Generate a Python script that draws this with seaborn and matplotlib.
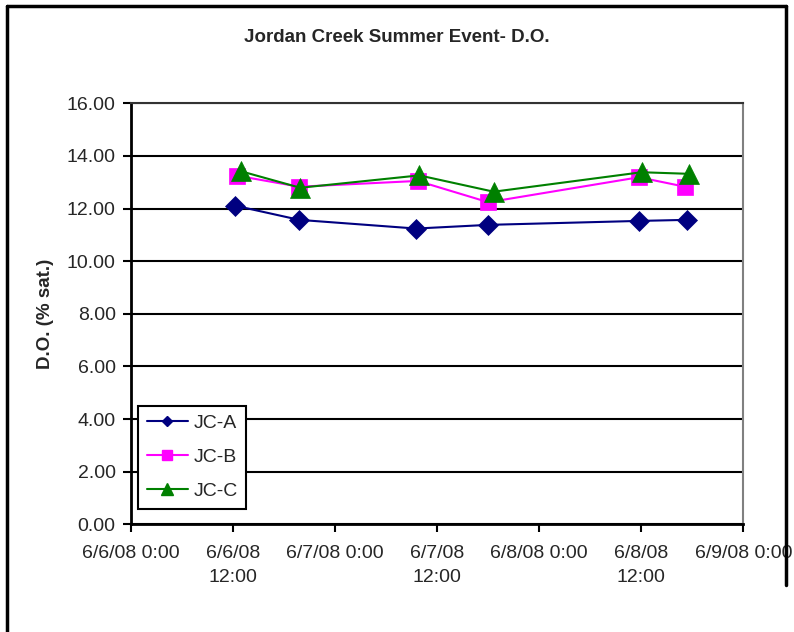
import matplotlib
matplotlib.use("Agg")
import matplotlib.pyplot as plt
import matplotlib.dates as mdates
from matplotlib.lines import Line2D
import pandas as pd
import seaborn as sns

# ---- data ----
title = "Jordan Creek Summer Event- D.O."
ylabel = "D.O. (% sat.)"
series_names = ["JC-A", "JC-B", "JC-C"]

times_a = ["2008-06-06 12:14", "2008-06-06 19:47", "2008-06-07 09:31",
           "2008-06-07 18:01", "2008-06-08 11:44", "2008-06-08 17:21"]
values_a = [12.11, 11.57, 11.24, 11.38, 11.53, 11.57]

times_b = ["2008-06-06 12:26", "2008-06-06 19:47", "2008-06-07 09:43",
           "2008-06-07 18:01", "2008-06-08 11:44", "2008-06-08 17:08"]
values_b = [13.25, 12.83, 13.05, 12.24, 13.19, 12.83]

times_c = ["2008-06-06 12:54", "2008-06-06 19:54", "2008-06-07 09:54",
           "2008-06-07 18:39", "2008-06-08 12:03", "2008-06-08 17:35"]
values_c = [13.42, 12.79, 13.26, 12.64, 13.38, 13.32]

x_ticks = ["2008-06-06 00:00", "2008-06-06 12:00", "2008-06-07 00:00",
           "2008-06-07 12:00", "2008-06-08 00:00", "2008-06-08 12:00",
           "2008-06-09 00:00"]
x_tick_labels = ["6/6/08 0:00", "6/6/08\n12:00", "6/7/08 0:00", "6/7/08\n12:00",
                 "6/8/08 0:00", "6/8/08\n12:00", "6/9/08 0:00"]
y_ticks = [0, 2, 4, 6, 8, 10, 12, 14, 16]
y_tick_labels = ["0.00", "2.00", "4.00", "6.00", "8.00", "10.00", "12.00", "14.00", "16.00"]

# ---- style ----
sns.set_theme(style="white")
plt.rcParams["font.family"] = ["Liberation Sans", "DejaVu Sans"]

colors = ["#000080", "#FF00FF", "#008000"]
markers = ["D", "s", "^"]
msizes = [10.0, 12.0, 14.0]
leg_msizes = [5.5, 7.0, 8.5]

W, H = 794, 632
fig = plt.figure(figsize=(W / 100, H / 100), dpi=100)
ax = fig.add_axes([131 / W, 1 - 524.3 / H, (743.3 - 131) / W, (524.3 - 103.3) / H])

all_times = [times_a, times_b, times_c]
all_vals = [values_a, values_b, values_c]
handles = []
for name, t, v, c, m, ms, lms in zip(series_names, all_times, all_vals, colors, markers, msizes, leg_msizes):
    df = pd.DataFrame({"time": pd.to_datetime(t), "value": v})
    sns.lineplot(data=df, x="time", y="value", ax=ax, color=c, marker=m,
                 markersize=ms, markeredgewidth=0.5, markeredgecolor=c,
                 linewidth=1.5, legend=False, estimator=None)
    handles.append(Line2D([], [], color=c, marker=m, markersize=lms,
                          markeredgecolor=c, linewidth=1.5, label=name))

ax.set_xlim(pd.Timestamp(x_ticks[0]), pd.Timestamp(x_ticks[-1]))
ax.set_ylim(0, 16)
ax.set_xticks([mdates.date2num(pd.Timestamp(t)) for t in x_ticks])
ax.set_xticklabels(x_tick_labels, fontsize=14, linespacing=1.55)
ax.set_yticks(y_ticks)
ax.set_yticklabels(y_tick_labels, fontsize=14)
ax.tick_params(axis="x", direction="out", length=6, width=1.5, pad=9, color="black", bottom=True)
ax.tick_params(axis="y", direction="out", length=6, width=1.5, pad=5, color="black", left=True)

ax.yaxis.grid(True, color="black", linewidth=1.5)
ax.xaxis.grid(False)
ax.set_axisbelow(True)

for side in ["left", "bottom"]:
    ax.spines[side].set_color("black")
    ax.spines[side].set_linewidth(2)
ax.spines["top"].set_color("#333333")
ax.spines["top"].set_linewidth(1.5)
ax.spines["right"].set_color("#808080")
ax.spines["right"].set_linewidth(1.5)

ax.set_xlabel("")
ax.set_ylabel(ylabel, fontsize=13.5, fontweight="bold", va="center")
ax.yaxis.set_label_coords((45 - 131) / (743.3 - 131), 0.5)

fig.text(397 / W, 1 - 38 / H, title, ha="center", va="center",
         fontsize=13.5, fontweight="bold")

leg = ax.legend(handles=handles, loc="lower left",
                bbox_to_anchor=(138 / W, 1 - 509 / H), bbox_transform=fig.transFigure,
                frameon=True, fancybox=False, framealpha=1, edgecolor="black",
                fontsize=14, handlelength=2.1, handletextpad=0.3,
                labelspacing=0.85, borderpad=0.45, borderaxespad=0)
leg.get_frame().set_linewidth(1.5)

# chart-area border
fig.add_artist(Line2D([7 / W, 7 / W], [0, 1 - 6 / H], transform=fig.transFigure, color="black", lw=2.5))
fig.add_artist(Line2D([7 / W, 786 / W], [1 - 6 / H, 1 - 6 / H], transform=fig.transFigure, color="black", lw=2.5))
fig.add_artist(Line2D([786 / W, 786 / W], [1 - 6 / H, 1 - 585 / H], transform=fig.transFigure, color="black", lw=2.5))

fig.savefig("out.png", dpi=100, facecolor="white")
